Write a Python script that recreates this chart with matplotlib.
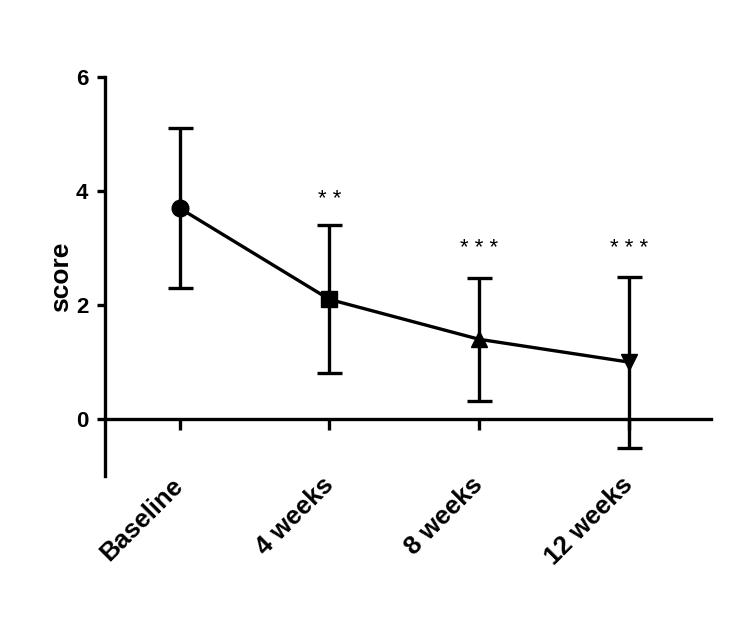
import matplotlib
matplotlib.use('Agg')
import matplotlib.pyplot as plt
import numpy as np

plt.rcParams['font.family'] = ['Liberation Sans', 'DejaVu Sans']

# 数据
categories = ['Baseline', '4 weeks', '8 weeks', '12 weeks']
means = [3.7, 2.1, 1.4, 1.0]
errors = [1.4, 1.3, 1.08, 1.5]
markers = ['o', 's', '^', 'v']
stars = ['', '* *', '* * *', '* * *']
star_y = [0, 3.85, 3.0, 3.0]

x = np.arange(len(categories))

fig = plt.figure(figsize=(7.33, 6.33), dpi=100)
ax = fig.add_axes([0.1432, 0.248, 0.827, 0.630])

ax.errorbar(x, means, yerr=errors, fmt='none', ecolor='black',
            elinewidth=2.4, capsize=9, capthick=2.4, zorder=2)
ax.plot(x, means, color='black', linewidth=2.4, zorder=3)
for xi, yi, m in zip(x, means, markers):
    ax.plot(xi, yi, marker=m, markersize=12, color='black', zorder=4)

for xi, s, sy in zip(x, stars, star_y):
    if s:
        ax.text(xi, sy, s, ha='center', va='center', fontsize=16)

# 坐标轴样式（先设置spine位置，否则会重置刻度标签）
ax.spines['top'].set_visible(False)
ax.spines['right'].set_visible(False)
ax.spines['bottom'].set_position(('data', 0))
ax.spines['left'].set_linewidth(2.4)
ax.spines['bottom'].set_linewidth(2.4)

ax.set_xlim(-0.5, 3.55)
ax.set_ylim(-1, 6)
ax.set_yticks([0, 2, 4, 6])
ax.set_xticks(x)
ax.set_xticklabels(categories, rotation=45, ha='right', va='center',
                   rotation_mode='anchor', fontsize=18.5, fontweight='bold')
ax.set_yticklabels(['0', '2', '4', '6'], fontsize=16, fontweight='bold')
ax.set_ylabel('score', fontsize=19, fontweight='bold', labelpad=2)

ax.tick_params(axis='y', width=2.4, length=6, pad=6)
ax.tick_params(axis='x', width=2.4, length=8, pad=37)

fig.savefig('out.png', dpi=100)
